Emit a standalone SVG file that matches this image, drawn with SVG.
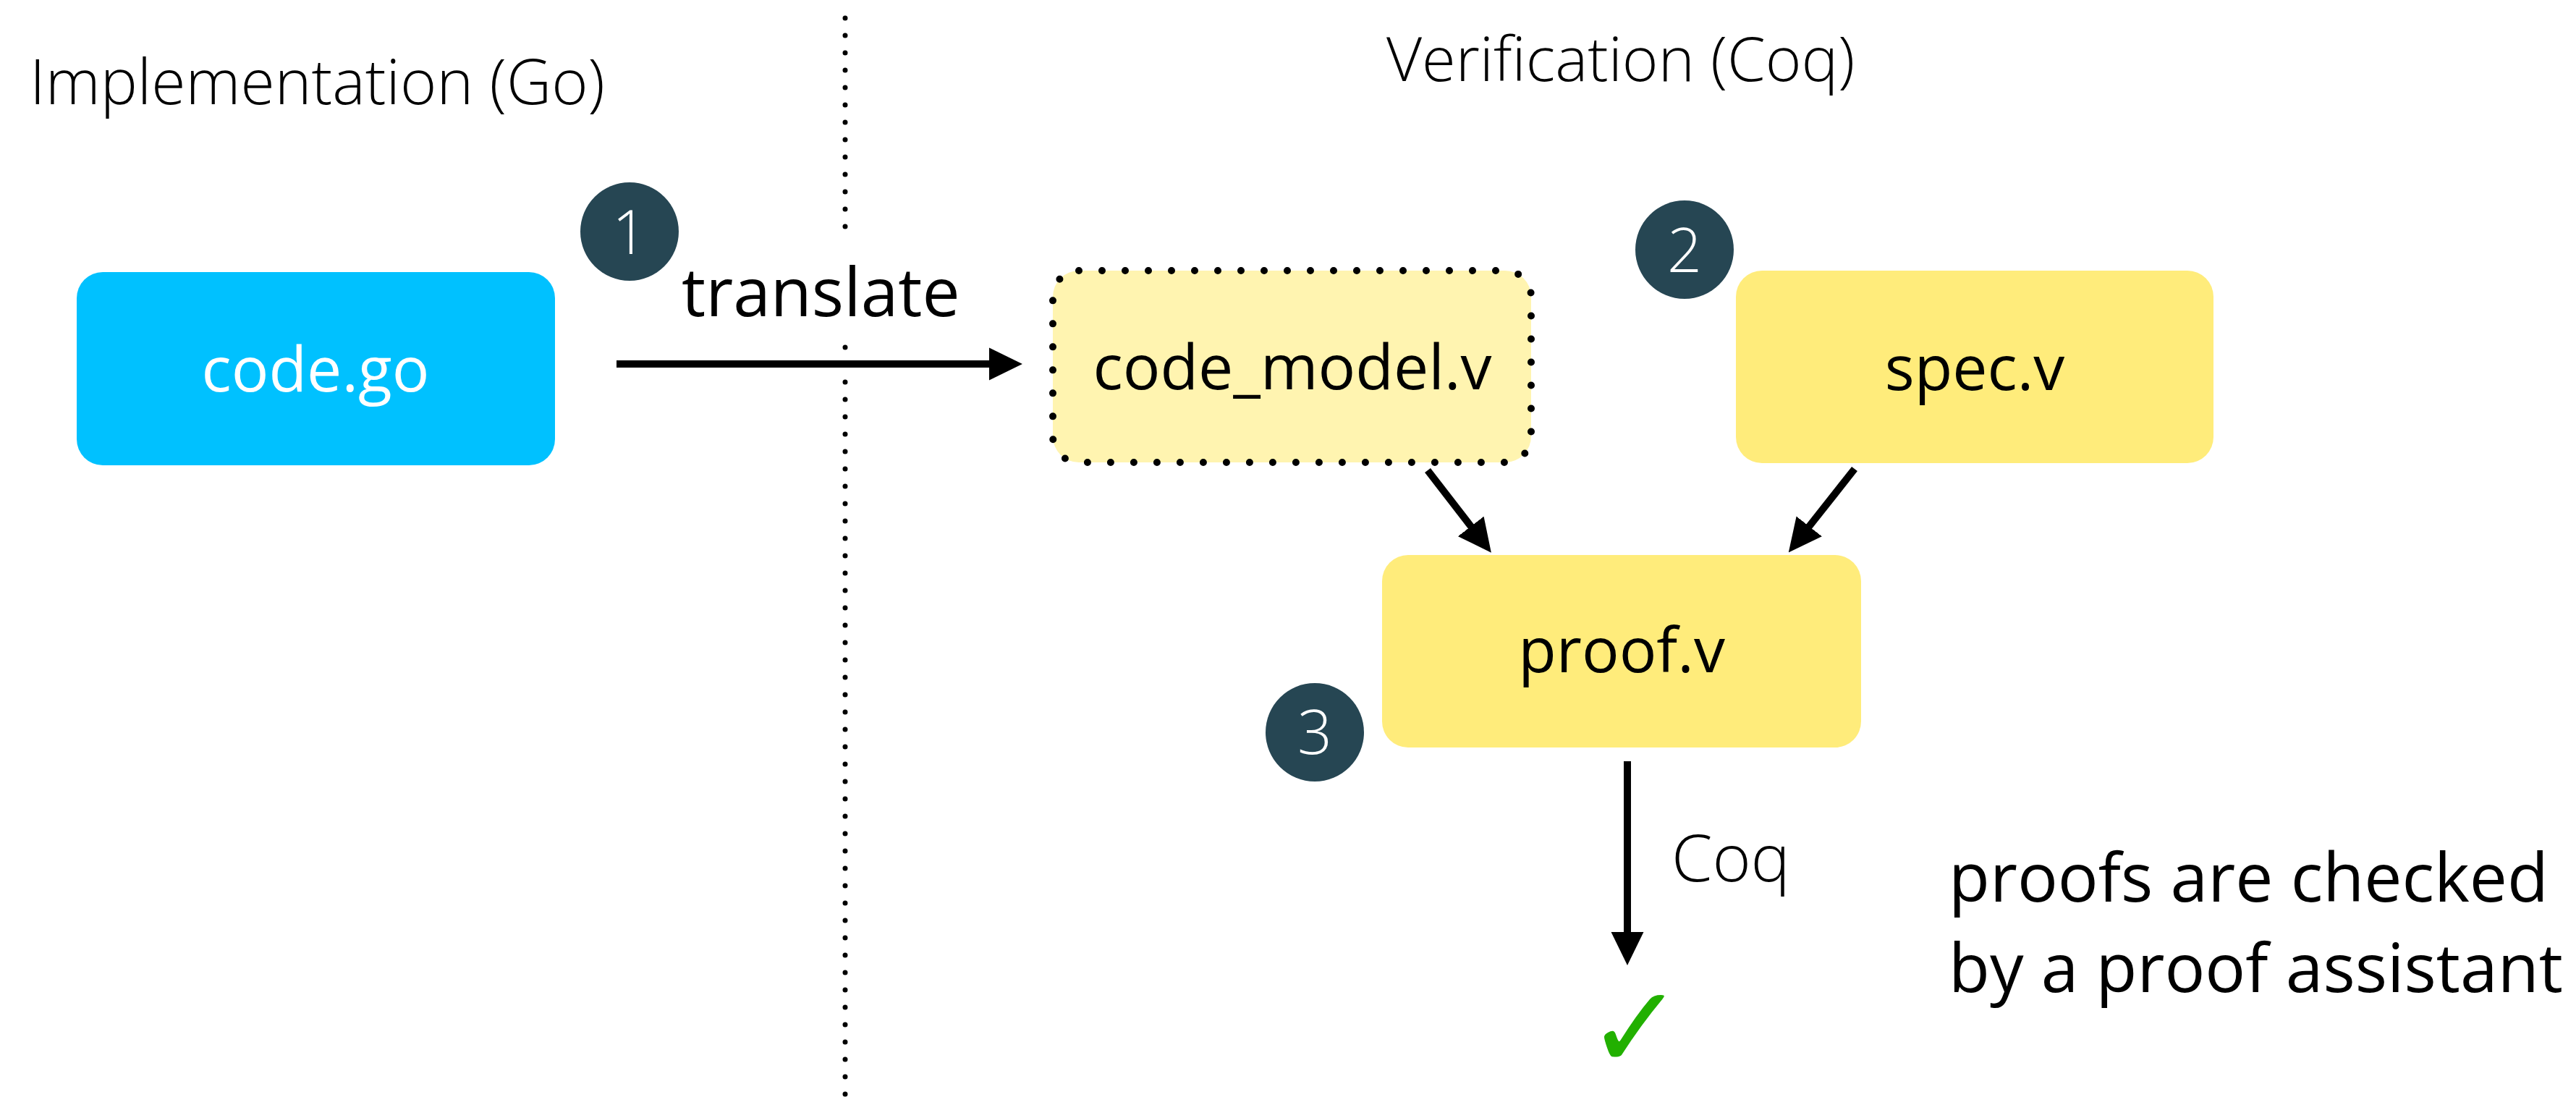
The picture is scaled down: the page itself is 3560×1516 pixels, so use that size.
<svg xmlns="http://www.w3.org/2000/svg" width="3560" height="1516" viewBox="0 0 3560 1516">
  <style>
    .lbl { font-family: "Open Sans", "Liberation Sans", sans-serif; }
    .light { font-weight: 300; }
    .node-text { font-size: 86px; fill: #000; text-anchor: middle; }
    .badge circle { fill: #264653; }
    .badge text { font-size: 84px; fill: #fff; text-anchor: middle; font-weight: 300; }
    .arrow { stroke: #000; stroke-width: 10; fill: none; marker-end: url(#head); }
  </style>
  <defs>
    <marker id="head" markerUnits="userSpaceOnUse" markerWidth="46" markerHeight="46" viewBox="0 0 45 44" refX="2" refY="22" orient="auto">
      <path d="M0,0 L45,22 L0,44 Z" fill="#000"/>
    </marker>
  </defs>

  <!-- section headings and the divider between them -->
  <g id="headings">
    <text class="lbl light" x="41" y="144" font-size="86">Implementation (Go)</text>
    <text class="lbl light" x="1916" y="112" font-size="85">Verification (Coq)</text>
  </g>
  <g id="divider" stroke="#000" stroke-width="7" stroke-linecap="round" stroke-dasharray="0 24">
    <line x1="1168" y1="25" x2="1168" y2="315"/>
    <line x1="1168" y1="480" x2="1168" y2="1516"/>
  </g>

  <!-- nodes -->
  <g id="code-go">
    <rect x="106" y="376" width="661" height="267" rx="36" fill="#00c1ff"/>
    <text class="lbl node-text" x="436" y="541" style="fill:#fff">code.go</text>
  </g>
  <g id="code-model">
    <rect x="1455" y="374" width="661" height="265" rx="36" fill="#fff4b0" stroke="#000" stroke-width="10" stroke-linecap="round" stroke-dasharray="0 32"/>
    <text class="lbl node-text" x="1786" y="538">code_model.v</text>
  </g>
  <g id="spec">
    <rect x="2399" y="374" width="660" height="266" rx="36" fill="#ffec7b"/>
    <text class="lbl node-text" x="2729" y="539">spec.v</text>
  </g>
  <g id="proof">
    <rect x="1910" y="767" width="662" height="266" rx="36" fill="#ffec7b"/>
    <text class="lbl node-text" x="2241" y="929">proof.v</text>
  </g>

  <!-- step badges -->
  <g id="badge-1" class="badge lbl">
    <circle cx="870" cy="320" r="68"/>
    <text x="870" y="351">1</text>
  </g>
  <g id="badge-2" class="badge lbl">
    <circle cx="2328" cy="345" r="68"/>
    <text x="2328" y="376">2</text>
  </g>
  <g id="badge-3" class="badge lbl">
    <circle cx="1817" cy="1012" r="68"/>
    <text x="1817" y="1042">3</text>
  </g>

  <!-- result -->
  <g id="check">
    <text x="2260" y="1476" font-family="DejaVu Sans, sans-serif" font-size="160" fill="#22b000" text-anchor="middle">✓</text>
  </g>

  <!-- connectors -->
  <g id="connectors">
    <line class="arrow" x1="852" y1="503" x2="1369" y2="503"/>
    <line class="arrow" x1="1973" y1="650" x2="2034" y2="729"/>
    <line class="arrow" x1="2563" y1="648" x2="2499" y2="729"/>
    <line class="arrow" x1="2249" y1="1052" x2="2249" y2="1290"/>
    <text class="lbl" x="942" y="437" font-size="93">translate</text>
    <text class="lbl light" x="2310" y="1218" font-size="91">Coq</text>
  </g>

  <!-- note -->
  <g id="note">
    <text class="lbl" x="2693" y="1246" font-size="93">proofs are checked</text>
    <text class="lbl" x="2693" y="1371" font-size="93">by a proof assistant</text>
  </g>
</svg>
